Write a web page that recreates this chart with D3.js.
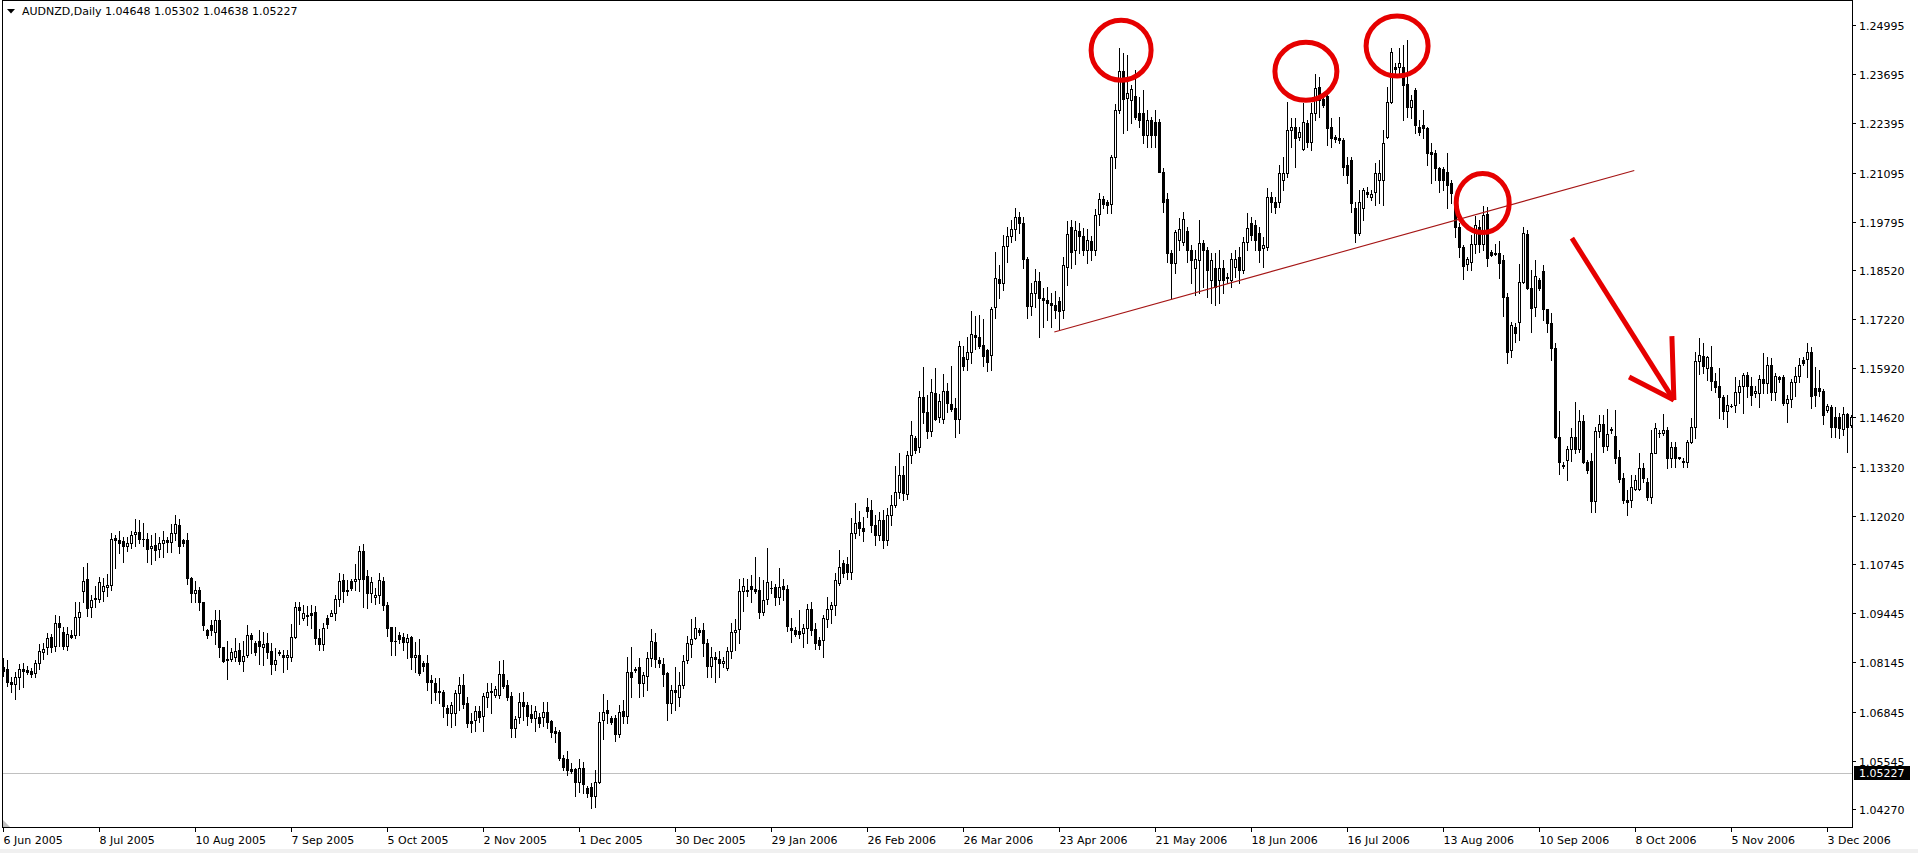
<!DOCTYPE html>
<html><head><meta charset="utf-8">
<script src="https://cdn.jsdelivr.net/npm/d3@7"></script>
<style>
html,body{margin:0;padding:0;background:#fff;overflow:hidden;}
svg{display:block;}
text{font-family:"DejaVu Sans",sans-serif;font-size:11px;fill:#000;}
</style></head><body>
<svg id="chart" width="1918" height="853"></svg>
<script>
// ---------------- DATA ----------------
const symbolTitle = "AUDNZD,Daily";
const lastBarOHLC = ["1.04648","1.05302","1.04638","1.05227"];
const currentPrice = 1.05227;
const yTickLabels = ["1.24995","1.23695","1.22395","1.21095","1.19795","1.18520","1.17220","1.15920","1.14620","1.13320","1.12020","1.10745","1.09445","1.08145","1.06845","1.05545","1.04270"];
const xTickLabels = ["6 Jun 2005","8 Jul 2005","10 Aug 2005","7 Sep 2005","5 Oct 2005","2 Nov 2005","1 Dec 2005","30 Dec 2005","29 Jan 2006","26 Feb 2006","26 Mar 2006","23 Apr 2006","21 May 2006","18 Jun 2006","16 Jul 2006","13 Aug 2006","10 Sep 2006","8 Oct 2006","5 Nov 2006","3 Dec 2006"];
const barsPerXLabel = 24;
// daily candles: [open, high, low, close]
const candles = [
[1.0802,1.0826,1.0779,1.0793],[1.0797,1.0821,1.0751,1.0762],[1.0764,1.0777,1.0736,1.0757],[1.0757,1.0788,1.0719,1.0777],[1.0777,1.0810,1.0744,1.0797],[1.0797,1.0813,1.0749,1.0791],
[1.0795,1.0805,1.0783,1.0790],[1.0792,1.0801,1.0775,1.0783],[1.0786,1.0821,1.0775,1.0812],[1.0814,1.0863,1.0797,1.0844],[1.0841,1.0865,1.0823,1.0850],[1.0854,1.0892,1.0837,1.0879],
[1.0881,1.0890,1.0842,1.0855],[1.0859,1.0939,1.0844,1.0918],[1.0918,1.0936,1.0859,1.0909],[1.0894,1.0908,1.0849,1.0859],[1.0857,1.0908,1.0848,1.0889],[1.0887,1.0899,1.0880,1.0883],
[1.0887,1.0975,1.0880,1.0935],[1.0934,1.0973,1.0886,1.0948],[1.1004,1.1066,1.0975,1.1030],[1.1035,1.1078,1.0938,1.0958],[1.0960,1.0993,1.0934,1.0980],[1.0982,1.1017,1.0960,1.0986],
[1.0983,1.1041,1.0975,1.1027],[1.1004,1.1037,1.0977,1.1017],[1.1015,1.1049,1.0989,1.1019],[1.1018,1.1156,1.1006,1.1140],[1.1144,1.1152,1.1065,1.1137],[1.1138,1.1162,1.1103,1.1130],
[1.1136,1.1145,1.1079,1.1121],[1.1121,1.1145,1.1110,1.1130],[1.1130,1.1162,1.1116,1.1152],[1.1153,1.1194,1.1121,1.1158],[1.1158,1.1191,1.1130,1.1142],[1.1142,1.1184,1.1123,1.1140],
[1.1141,1.1156,1.1081,1.1115],[1.1116,1.1152,1.1075,1.1122],[1.1125,1.1156,1.1085,1.1112],[1.1114,1.1147,1.1092,1.1131],[1.1130,1.1163,1.1094,1.1138],[1.1138,1.1145,1.1107,1.1132],
[1.1134,1.1180,1.1107,1.1156],[1.1156,1.1204,1.1138,1.1181],[1.1178,1.1193,1.1105,1.1121],[1.1138,1.1141,1.1121,1.1130],[1.1138,1.1156,1.1022,1.1037],[1.1037,1.1041,1.0973,1.0999],
[1.0999,1.1031,1.0973,1.1006],[1.1006,1.1013,1.0953,1.0973],[1.0974,1.0974,1.0899,1.0914],[1.0901,1.0902,1.0879,1.0887],[1.0913,1.0927,1.0887,1.0900],[1.0894,1.0952,1.0863,1.0927],
[1.0927,1.0952,1.0828,1.0855],[1.0855,1.0856,1.0815,1.0817],[1.0823,1.0870,1.0771,1.0820],[1.0824,1.0852,1.0817,1.0842],[1.0830,1.0878,1.0817,1.0845],[1.0848,1.0865,1.0811,1.0819],
[1.0819,1.0870,1.0793,1.0832],[1.0833,1.0914,1.0830,1.0887],[1.0887,1.0892,1.0839,1.0877],[1.0867,1.0872,1.0833,1.0841],[1.0871,1.0901,1.0811,1.0859],[1.0856,1.0896,1.0808,1.0863],
[1.0865,1.0892,1.0826,1.0843],[1.0845,1.0865,1.0783,1.0810],[1.0810,1.0852,1.0795,1.0821],[1.0839,1.0848,1.0834,1.0842],[1.0834,1.0848,1.0790,1.0828],[1.0828,1.0848,1.0797,1.0834],
[1.0830,1.0916,1.0817,1.0881],[1.0881,1.0975,1.0879,1.0960],[1.0961,1.0973,1.0916,1.0954],[1.0931,1.0967,1.0927,1.0945],[1.0936,1.0964,1.0914,1.0941],[1.0946,1.0967,1.0905,1.0941],
[1.0947,1.0964,1.0863,1.0878],[1.0878,1.0904,1.0846,1.0864],[1.0864,1.0918,1.0848,1.0905],[1.0932,1.0941,1.0906,1.0915],[1.0938,1.0953,1.0936,1.0945],[1.0946,1.0993,1.0927,1.0981],
[1.0981,1.1050,1.0964,1.1030],[1.1033,1.1048,1.0975,1.1002],[1.1002,1.1033,1.0993,1.1006],[1.1030,1.1034,1.1006,1.1011],[1.1031,1.1075,1.1006,1.1034],[1.1034,1.1122,1.1002,1.1109],
[1.1109,1.1128,1.0960,1.1034],[1.1043,1.1059,1.0959,1.0999],[1.0999,1.1041,1.0973,1.1027],[1.0987,1.1011,1.0969,1.0992],[1.0993,1.1050,1.0971,1.1033],[1.1031,1.1041,1.0953,1.0965],
[1.0966,1.0973,1.0884,1.0905],[1.0907,1.0909,1.0833,1.0870],[1.0871,1.0909,1.0834,1.0872],[1.0887,1.0896,1.0865,1.0877],[1.0881,1.0891,1.0847,1.0868],[1.0869,1.0889,1.0825,1.0878],
[1.0881,1.0884,1.0796,1.0828],[1.0828,1.0869,1.0788,1.0833],[1.0833,1.0876,1.0781,1.0786],[1.0813,1.0817,1.0793,1.0806],[1.0812,1.0834,1.0742,1.0764],[1.0768,1.0781,1.0708,1.0762],
[1.0759,1.0773,1.0715,1.0735],[1.0739,1.0773,1.0708,1.0735],[1.0736,1.0742,1.0671,1.0698],[1.0693,1.0702,1.0649,1.0682],[1.0680,1.0711,1.0645,1.0702],[1.0680,1.0742,1.0648,1.0733],
[1.0733,1.0777,1.0689,1.0754],[1.0754,1.0783,1.0693,1.0705],[1.0706,1.0724,1.0643,1.0654],[1.0660,1.0680,1.0631,1.0655],[1.0662,1.0700,1.0632,1.0685],[1.0685,1.0698,1.0658,1.0669],
[1.0673,1.0733,1.0632,1.0726],[1.0724,1.0759,1.0696,1.0736],[1.0738,1.0759,1.0682,1.0735],[1.0728,1.0753,1.0724,1.0744],[1.0728,1.0818,1.0721,1.0783],[1.0783,1.0821,1.0746,1.0751],
[1.0754,1.0768,1.0714,1.0724],[1.0726,1.0735,1.0618,1.0642],[1.0642,1.0673,1.0618,1.0664],[1.0669,1.0733,1.0655,1.0709],[1.0709,1.0736,1.0662,1.0700],[1.0702,1.0711,1.0649,1.0674],
[1.0678,1.0702,1.0656,1.0667],[1.0667,1.0698,1.0634,1.0685],[1.0671,1.0680,1.0645,1.0654],[1.0671,1.0711,1.0647,1.0683],[1.0684,1.0711,1.0642,1.0658],[1.0659,1.0662,1.0618,1.0631],
[1.0633,1.0645,1.0605,1.0627],[1.0630,1.0636,1.0557,1.0563],[1.0561,1.0570,1.0530,1.0539],[1.0558,1.0581,1.0517,1.0530],[1.0533,1.0548,1.0521,1.0528],[1.0532,1.0535,1.0462,1.0499],
[1.0499,1.0558,1.0473,1.0535],[1.0535,1.0552,1.0469,1.0492],[1.0482,1.0488,1.0460,1.0469],[1.0484,1.0495,1.0429,1.0462],[1.0462,1.0530,1.0433,1.0498],[1.0499,1.0684,1.0495,1.0656],
[1.0661,1.0731,1.0612,1.0684],[1.0688,1.0715,1.0655,1.0680],[1.0667,1.0673,1.0652,1.0656],[1.0667,1.0676,1.0608,1.0625],[1.0625,1.0701,1.0618,1.0684],[1.0685,1.0715,1.0654,1.0673],
[1.0674,1.0828,1.0654,1.0788],[1.0790,1.0856,1.0724,1.0775],[1.0795,1.0803,1.0788,1.0797],[1.0802,1.0826,1.0724,1.0761],[1.0761,1.0790,1.0727,1.0781],[1.0779,1.0841,1.0742,1.0826],
[1.0825,1.0903,1.0805,1.0870],[1.0868,1.0891,1.0803,1.0824],[1.0821,1.0830,1.0803,1.0812],[1.0810,1.0825,1.0753,1.0783],[1.0786,1.0788,1.0661,1.0706],[1.0706,1.0754,1.0682,1.0741],
[1.0742,1.0803,1.0689,1.0736],[1.0724,1.0788,1.0698,1.0756],[1.0754,1.0834,1.0746,1.0819],[1.0821,1.0885,1.0814,1.0865],[1.0862,1.0929,1.0830,1.0876],[1.0878,1.0934,1.0877,1.0905],
[1.0900,1.0905,1.0888,1.0896],[1.0900,1.0918,1.0832,1.0865],[1.0865,1.0876,1.0777,1.0806],[1.0805,1.0854,1.0777,1.0828],[1.0828,1.0841,1.0764,1.0824],[1.0823,1.0845,1.0775,1.0812],
[1.0812,1.0830,1.0803,1.0817],[1.0799,1.0856,1.0795,1.0844],[1.0845,1.0920,1.0825,1.0894],[1.0894,1.0929,1.0847,1.0900],[1.0902,1.1034,1.0865,1.1003],[1.1003,1.1038,1.0950,1.1017],
[1.1007,1.1034,1.0990,1.1003],[1.1017,1.1046,1.0975,1.1008],[1.1008,1.1094,1.0997,1.1004],[1.1006,1.1041,1.0931,1.0949],[1.0949,1.1032,1.0940,1.0980],[1.0981,1.1116,1.0968,1.1027],
[1.1011,1.1030,1.0997,1.1010],[1.1013,1.1022,1.0965,1.0987],[1.0987,1.1064,1.0969,1.1013],[1.1017,1.1034,1.0980,1.1008],[1.1009,1.1018,1.0898,1.0912],[1.0906,1.0932,1.0869,1.0899],
[1.0900,1.0909,1.0885,1.0890],[1.0898,1.0953,1.0878,1.0890],[1.0891,1.0916,1.0856,1.0905],[1.0905,1.0968,1.0865,1.0957],[1.0956,1.0974,1.0887,1.0900],[1.0903,1.0918,1.0849,1.0867],
[1.0874,1.0883,1.0849,1.0861],[1.0873,1.0940,1.0830,1.0931],[1.0928,1.0987,1.0909,1.0955],[1.0955,1.0974,1.0920,1.0965],[1.0965,1.1052,1.0940,1.1032],[1.1025,1.1112,1.1020,1.1066],
[1.1077,1.1085,1.1041,1.1050],[1.1074,1.1094,1.1035,1.1054],[1.1054,1.1195,1.1035,1.1156],[1.1156,1.1235,1.1143,1.1182],[1.1185,1.1216,1.1151,1.1169],[1.1169,1.1198,1.1136,1.1163],
[1.1226,1.1248,1.1198,1.1216],[1.1218,1.1244,1.1159,1.1178],[1.1178,1.1204,1.1125,1.1151],[1.1151,1.1212,1.1138,1.1191],[1.1191,1.1218,1.1117,1.1138],[1.1138,1.1223,1.1125,1.1204],
[1.1204,1.1257,1.1178,1.1231],[1.1231,1.1334,1.1226,1.1266],[1.1266,1.1367,1.1248,1.1310],[1.1310,1.1334,1.1244,1.1262],[1.1260,1.1374,1.1246,1.1362],[1.1362,1.1453,1.1341,1.1415],
[1.1408,1.1413,1.1367,1.1377],[1.1385,1.1532,1.1372,1.1515],[1.1515,1.1596,1.1448,1.1477],[1.1476,1.1522,1.1407,1.1427],[1.1425,1.1564,1.1414,1.1529],[1.1526,1.1592,1.1455,1.1459],
[1.1462,1.1524,1.1451,1.1505],[1.1457,1.1577,1.1447,1.1533],[1.1531,1.1552,1.1477,1.1499],[1.1498,1.1598,1.1478,1.1485],[1.1486,1.1513,1.1411,1.1457],[1.1457,1.1664,1.1420,1.1651],
[1.1621,1.1651,1.1588,1.1599],[1.1616,1.1676,1.1588,1.1634],[1.1634,1.1744,1.1605,1.1682],[1.1680,1.1729,1.1643,1.1674],[1.1675,1.1733,1.1645,1.1652],[1.1654,1.1722,1.1598,1.1625],
[1.1640,1.1644,1.1586,1.1608],[1.1627,1.1755,1.1588,1.1749],[1.1753,1.1900,1.1724,1.1830],[1.1828,1.1865,1.1779,1.1817],[1.1817,1.1944,1.1799,1.1915],[1.1915,1.1965,1.1874,1.1942],
[1.1942,1.1984,1.1927,1.1959],[1.1959,1.2015,1.1931,1.1991],[1.1991,1.2006,1.1949,1.1975],[1.1975,1.1993,1.1856,1.1880],[1.1880,1.1887,1.1724,1.1757],[1.1757,1.1817,1.1733,1.1790],
[1.1790,1.1854,1.1755,1.1823],[1.1823,1.1846,1.1676,1.1777],[1.1777,1.1803,1.1702,1.1773],[1.1773,1.1808,1.1720,1.1764],[1.1764,1.1790,1.1702,1.1759],[1.1759,1.1797,1.1724,1.1746],
[1.1770,1.1781,1.1693,1.1744],[1.1746,1.1885,1.1724,1.1864],[1.1861,1.1982,1.1812,1.1947],[1.1966,1.1984,1.1856,1.1899],[1.1905,1.1981,1.1869,1.1957],[1.1956,1.1975,1.1896,1.1942],
[1.1942,1.1962,1.1891,1.1905],[1.1905,1.1959,1.1871,1.1931],[1.1929,1.1942,1.1878,1.1905],[1.1905,1.2013,1.1891,1.1997],[1.1999,1.2056,1.1971,1.2039],[1.2039,1.2047,1.2015,1.2026],
[1.2032,1.2037,1.2002,1.2024],[1.2026,1.2156,1.2002,1.2150],[1.2150,1.2290,1.2121,1.2275],[1.2275,1.2439,1.2266,1.2378],[1.2378,1.2425,1.2215,1.2304],[1.2306,1.2420,1.2222,1.2321],
[1.2301,1.2341,1.2240,1.2329],[1.2312,1.2380,1.2250,1.2257],[1.2266,1.2310,1.2231,1.2248],[1.2268,1.2328,1.2187,1.2209],[1.2209,1.2275,1.2178,1.2248],[1.2248,1.2257,1.2178,1.2209],
[1.2244,1.2275,1.2178,1.2209],[1.2243,1.2250,1.2112,1.2112],[1.2112,1.2121,1.2006,1.2032],[1.2039,1.2056,1.1874,1.1896],[1.1896,1.1906,1.1777,1.1871],[1.1871,1.1957,1.1843,1.1953],
[1.1931,1.1988,1.1905,1.1960],[1.1927,1.2006,1.1918,1.1986],[1.1956,1.1966,1.1874,1.1905],[1.1905,1.1918,1.1817,1.1878],[1.1856,1.1905,1.1786,1.1880],[1.1878,1.1984,1.1790,1.1924],
[1.1924,1.1931,1.1808,1.1905],[1.1905,1.1913,1.1781,1.1852],[1.1825,1.1896,1.1764,1.1878],[1.1856,1.1896,1.1759,1.1808],[1.1825,1.1905,1.1764,1.1856],[1.1856,1.1878,1.1790,1.1825],
[1.1832,1.1843,1.1817,1.1834],[1.1825,1.1896,1.1808,1.1882],[1.1861,1.1905,1.1834,1.1882],[1.1885,1.1913,1.1817,1.1852],[1.1852,1.1940,1.1843,1.1927],[1.1927,1.2002,1.1905,1.1962],
[1.1975,1.1993,1.1931,1.1944],[1.1971,1.1984,1.1905,1.1931],[1.1949,1.1966,1.1874,1.1905],[1.1909,1.1940,1.1861,1.1918],[1.1913,1.2068,1.1905,1.2046],[1.2046,1.2059,1.2006,1.2032],
[1.2032,1.2046,1.2002,1.2019],[1.2032,1.2129,1.2019,1.2107],[1.2091,1.2151,1.2063,1.2107],[1.2107,1.2297,1.2099,1.2222],[1.2222,1.2253,1.2178,1.2231],[1.2231,1.2253,1.2125,1.2200],
[1.2204,1.2231,1.2195,1.2216],[1.2173,1.2292,1.2169,1.2244],[1.2240,1.2248,1.2178,1.2191],[1.2191,1.2292,1.2169,1.2266],[1.2266,1.2370,1.2248,1.2332],[1.2336,1.2363,1.2257,1.2301],
[1.2304,1.2314,1.2284,1.2288],[1.2312,1.2319,1.2182,1.2226],[1.2231,1.2253,1.2178,1.2200],[1.2204,1.2209,1.2191,1.2198],[1.2200,1.2257,1.2187,1.2195],[1.2195,1.2200,1.2103,1.2125],
[1.2129,1.2151,1.2081,1.2103],[1.2143,1.2151,1.2006,1.2028],[1.2015,1.2032,1.1927,1.1949],[1.1949,1.2063,1.1944,1.2032],[1.2015,1.2068,1.1984,1.2063],[1.2059,1.2072,1.2046,1.2054],
[1.2046,1.2063,1.2037,1.2053],[1.2059,1.2134,1.2024,1.2107],[1.2090,1.2143,1.2028,1.2107],[1.2090,1.2222,1.2024,1.2187],[1.2204,1.2336,1.2200,1.2297],[1.2297,1.2438,1.2292,1.2429],
[1.2389,1.2398,1.2363,1.2382],[1.2389,1.2438,1.2367,1.2398],[1.2389,1.2447,1.2248,1.2341],[1.2343,1.2460,1.2257,1.2284],[1.2282,1.2314,1.2253,1.2301],[1.2328,1.2332,1.2213,1.2235],
[1.2231,1.2248,1.2209,1.2217],[1.2235,1.2275,1.2200,1.2226],[1.2226,1.2231,1.2129,1.2160],[1.2165,1.2187,1.2081,1.2158],[1.2160,1.2169,1.2090,1.2121],[1.2121,1.2125,1.2059,1.2090],
[1.2118,1.2125,1.2063,1.2090],[1.2112,1.2160,1.2015,1.2076],[1.2081,1.2090,1.2028,1.2055],[1.2033,1.2041,1.1940,1.1965],[1.1965,1.1975,1.1887,1.1912],[1.1912,1.1918,1.1827,1.1862],
[1.1867,1.1885,1.1852,1.1880],[1.1874,1.1944,1.1852,1.1921],[1.1921,1.1995,1.1896,1.1971],[1.1965,1.1984,1.1900,1.1921],[1.1921,1.2021,1.1905,1.1997],[1.2000,1.2019,1.1862,1.1883],
[1.1900,1.1905,1.1889,1.1892],[1.1896,1.1921,1.1892,1.1894],[1.1896,1.1929,1.1832,1.1871],[1.1878,1.1892,1.1731,1.1780],[1.1781,1.1790,1.1605,1.1636],[1.1640,1.1715,1.1623,1.1707],
[1.1702,1.1711,1.1662,1.1685],[1.1715,1.1869,1.1667,1.1821],[1.1821,1.1966,1.1817,1.1949],[1.1947,1.1958,1.1802,1.1803],[1.1803,1.1852,1.1687,1.1751],[1.1753,1.1878,1.1731,1.1837],
[1.1825,1.1830,1.1799,1.1805],[1.1848,1.1865,1.1720,1.1748],[1.1748,1.1748,1.1687,1.1711],[1.1711,1.1739,1.1614,1.1645],[1.1645,1.1658,1.1407,1.1411],[1.1411,1.1480,1.1313,1.1345],
[1.1334,1.1345,1.1328,1.1336],[1.1350,1.1387,1.1297,1.1378],[1.1378,1.1433,1.1348,1.1411],[1.1411,1.1502,1.1367,1.1378],[1.1378,1.1482,1.1372,1.1453],[1.1453,1.1469,1.1341,1.1345],
[1.1345,1.1350,1.1314,1.1323],[1.1347,1.1367,1.1213,1.1240],[1.1240,1.1438,1.1213,1.1425],[1.1425,1.1469,1.1411,1.1445],[1.1445,1.1469,1.1372,1.1387],[1.1387,1.1484,1.1376,1.1418],
[1.1429,1.1438,1.1420,1.1431],[1.1414,1.1482,1.1341,1.1354],[1.1358,1.1376,1.1292,1.1299],[1.1301,1.1314,1.1235,1.1244],[1.1244,1.1270,1.1204,1.1238],[1.1244,1.1310,1.1226,1.1277],
[1.1272,1.1310,1.1270,1.1297],[1.1273,1.1367,1.1270,1.1329],[1.1329,1.1341,1.1292,1.1301],[1.1292,1.1301,1.1244,1.1251],[1.1251,1.1429,1.1235,1.1367],[1.1369,1.1447,1.1367,1.1433],
[1.1420,1.1429,1.1411,1.1422],[1.1422,1.1471,1.1416,1.1429],[1.1429,1.1438,1.1328,1.1354],[1.1354,1.1398,1.1332,1.1383],[1.1383,1.1398,1.1332,1.1354],[1.1357,1.1358,1.1351,1.1355],
[1.1348,1.1354,1.1332,1.1345],[1.1343,1.1403,1.1332,1.1398],[1.1396,1.1460,1.1394,1.1436],[1.1436,1.1636,1.1407,1.1610],[1.1612,1.1671,1.1577,1.1627],[1.1625,1.1658,1.1579,1.1599],
[1.1592,1.1625,1.1561,1.1621],[1.1596,1.1651,1.1535,1.1559],[1.1558,1.1579,1.1530,1.1542],[1.1544,1.1592,1.1460,1.1515],[1.1517,1.1521,1.1457,1.1480],[1.1480,1.1521,1.1438,1.1495],
[1.1492,1.1498,1.1489,1.1493],[1.1495,1.1570,1.1477,1.1530],[1.1529,1.1561,1.1499,1.1545],[1.1544,1.1579,1.1473,1.1573],[1.1573,1.1582,1.1517,1.1544],[1.1545,1.1570,1.1495,1.1521],
[1.1526,1.1544,1.1517,1.1533],[1.1526,1.1574,1.1491,1.1563],[1.1563,1.1632,1.1526,1.1554],[1.1554,1.1621,1.1526,1.1601],[1.1601,1.1618,1.1508,1.1530],[1.1530,1.1579,1.1508,1.1572],
[1.1570,1.1572,1.1557,1.1563],[1.1570,1.1574,1.1495,1.1499],[1.1499,1.1521,1.1451,1.1511],[1.1510,1.1563,1.1491,1.1557],[1.1556,1.1595,1.1519,1.1572],[1.1572,1.1618,1.1557,1.1601],
[1.1614,1.1621,1.1601,1.1607],[1.1617,1.1658,1.1568,1.1634],[1.1634,1.1649,1.1486,1.1519],[1.1539,1.1596,1.1492,1.1521],[1.1539,1.1588,1.1519,1.1533],[1.1532,1.1536,1.1445,1.1469],
[1.1482,1.1498,1.1477,1.1492],[1.1489,1.1495,1.1411,1.1438],[1.1464,1.1489,1.1410,1.1436],[1.1464,1.1473,1.1407,1.1433],[1.1431,1.1491,1.1416,1.1470],[1.1470,1.1473,1.1370,1.1438],
[1.1442,1.1469,1.1438,1.1462]
];
// annotations (bar index, price)
const trendLine = [[262.7, 1.1688], [407.7, 1.2115]];
const circleMarks = [[279.4, 1.2433], [325.6, 1.2377], [348.4, 1.2444], [369.8, 1.2029]];
const arrowShaft = [[392.1, 1.1936], [417.6, 1.1508]];
const arrowHeadArms = [[[406.4, 1.1569], [417.6, 1.1508]], [[417.1, 1.1677], [417.6, 1.1508]]];

// ---------------- DRAW ----------------
const svg = d3.select("#chart");
const frame = {left: 2, top: 0, right: 1852, bottom: 827};
const x = d3.scaleLinear().domain([0, candles.length - 1]).range([3.5, 3.5 + 4 * (candles.length - 1)]);
const yMax = +yTickLabels[0], yMin = +yTickLabels[yTickLabels.length - 1];
const y = d3.scaleLinear().domain([yMin, yMax]).range([809, 25]);

svg.append("rect").attr("width", 1918).attr("height", 853).attr("fill", "#fff");
svg.append("rect").attr("x", 0).attr("y", 849).attr("width", 1918).attr("height", 4).attr("fill", "#f0f0f0");

svg.append("defs").append("clipPath").attr("id", "clip")
  .append("rect").attr("x", frame.left + 0.5).attr("y", frame.top + 0.5)
  .attr("width", frame.right - frame.left - 0.5).attr("height", frame.bottom - frame.top - 0.5);

// current price line
svg.append("line").attr("x1", frame.left).attr("x2", frame.right)
  .attr("y1", Math.round(y(currentPrice)) + 0.5).attr("y2", Math.round(y(currentPrice)) + 0.5)
  .attr("stroke", "#c0c0c0").attr("stroke-width", 1).attr("shape-rendering", "crispEdges");

const g = svg.append("g").attr("clip-path", "url(#clip)").attr("shape-rendering", "crispEdges");
const R = v => Math.round(y(v));
const cg = g.selectAll("g.c").data(candles).join("g");
cg.append("line")
  .attr("x1", (d, i) => x(i)).attr("x2", (d, i) => x(i))
  .attr("y1", d => R(d[1])).attr("y2", d => R(d[2]) + 1)
  .attr("stroke", "#000").attr("stroke-width", 1);
cg.each(function(d, i) {
  const sel = d3.select(this);
  const o = R(d[0]), c = R(d[3]);
  const xc = x(i);
  if (Math.abs(o - c) < 1) {
    sel.append("rect").attr("x", xc - 1.5).attr("y", o).attr("width", 3).attr("height", 1).attr("fill", "#000");
  } else if (d[3] > d[0]) {
    sel.append("rect").attr("x", xc - 1).attr("y", c + 0.5).attr("width", 2).attr("height", o - c)
      .attr("fill", "#fff").attr("stroke", "#000").attr("stroke-width", 1);
  } else {
    sel.append("rect").attr("x", xc - 1.5).attr("y", o).attr("width", 3).attr("height", c - o + 1).attr("fill", "#000");
  }
});

// annotations
const ann = svg.append("g").attr("clip-path", "url(#clip)");
ann.append("line")
  .attr("x1", x(trendLine[0][0])).attr("y1", y(trendLine[0][1]))
  .attr("x2", x(trendLine[1][0])).attr("y2", y(trendLine[1][1]))
  .attr("stroke", "#a51515").attr("stroke-width", 1.1);
const circleR = [[30, 30], [31, 29], [31, 30], [26.5, 29.5]];
ann.selectAll("ellipse").data(circleMarks).join("ellipse")
  .attr("cx", d => x(d[0])).attr("cy", d => y(d[1]))
  .attr("rx", (d, i) => circleR[i][0]).attr("ry", (d, i) => circleR[i][1])
  .attr("fill", "none").attr("stroke", "#e60000").attr("stroke-width", 5);
const lineGen = d3.line().x(d => x(d[0])).y(d => y(d[1]));
ann.append("path").attr("d", lineGen(arrowShaft)).attr("stroke", "#e60000").attr("stroke-width", 5).attr("fill", "none");
arrowHeadArms.forEach(a => ann.append("path").attr("d", lineGen(a)).attr("stroke", "#e60000").attr("stroke-width", 5).attr("fill", "none").attr("stroke-linejoin", "round"));

// frame
svg.append("path").attr("d", `M${frame.left + 0.5},${frame.bottom + 0.5}V${frame.top + 0.5}H${frame.right + 0.5}V${frame.bottom + 0.5}Z`)
  .attr("fill", "none").attr("stroke", "#000").attr("stroke-width", 1).attr("shape-rendering", "crispEdges");

// small marker bottom-left
svg.append("path").attr("d", `M3,820L3,827L10,827Z`).attr("fill", "#c0c0c0");

// y axis
const ya = svg.append("g").attr("shape-rendering", "crispEdges");
yTickLabels.forEach(t => {
  const yy = Math.round(y(+t)) + 0.5;
  ya.append("line").attr("x1", frame.right).attr("x2", frame.right + 4).attr("y1", yy).attr("y2", yy).attr("stroke", "#000");
  ya.append("text").attr("x", 1859).attr("y", yy + 4).text(t);
});
// current price label
const cy = Math.round(y(currentPrice));
svg.append("rect").attr("x", 1854).attr("y", cy - 7).attr("width", 56).attr("height", 14).attr("fill", "#000");
svg.append("text").attr("x", 1859).attr("y", cy + 4).style("fill", "#fff").text(currentPrice.toFixed(5));

// x axis
const xa = svg.append("g").attr("shape-rendering", "crispEdges");
xTickLabels.forEach((t, k) => {
  const xx = Math.round(x(k * barsPerXLabel) - 0.5) + 0.5;
  xa.append("line").attr("x1", xx).attr("x2", xx).attr("y1", frame.bottom).attr("y2", frame.bottom + 5).attr("stroke", "#000");
  xa.append("text").attr("x", xx).attr("y", 844).text(t);
});

// header
svg.append("path").attr("d", "M7,9L15,9L11,13.5Z").attr("fill", "#000");
svg.append("text").attr("x", 22).attr("y", 15).text(symbolTitle + "  " + lastBarOHLC.join(" "));
</script>
</body></html>
